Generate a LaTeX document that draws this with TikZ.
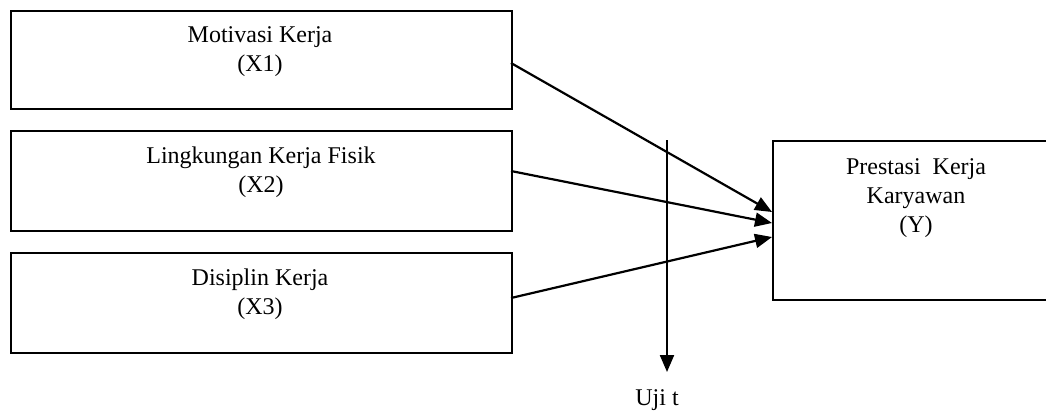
\documentclass[tikz,border=0pt]{standalone}
\usepackage{fontspec}
\setmainfont{Liberation Serif}
\usetikzlibrary{arrows.meta}
\begin{document}
\begin{tikzpicture}[x=1pt,y=-1pt,
  box/.style={draw,line width=2pt,anchor=north west,inner sep=0pt},
  txt/.style={align=center,anchor=north,inner sep=0pt,font=\fontsize{24}{29}\selectfont},
  con/.style={line width=2.2pt,-{Triangle[length=17pt,width=14pt]}}]
\useasboundingbox (0,0) rectangle (1046,410);
\node[box,minimum width=501pt,minimum height=98pt] (b1) at (10,10) {};
\node[box,minimum width=501pt,minimum height=100pt] (b2) at (10,130) {};
\node[box,minimum width=501pt,minimum height=100pt] (b3) at (10,252) {};
\node[box,minimum width=290pt,minimum height=159pt] (y) at (772,140) {};
\node[txt] (t1) at (260,26.6) {Motivasi Kerja\\(X1)};
\node[txt] (t2) at (261,146.6) {Lingkungan Kerja Fisik\\(X2)};
\node[txt] (t3) at (260,268.6) {Disiplin Kerja\\(X3)};
\node[txt] (ty) at (916,158.6) {Prestasi\ \ Kerja\\Karyawan\\(Y)};
\coordinate (s1) at (511,63);
\coordinate (s2) at (511,171);
\coordinate (s3) at (511,298);
\coordinate (e1) at (772,212);
\coordinate (e2) at (772,223);
\coordinate (e3) at (772,237);
\draw[con] (s1) -- (e1);
\draw[con] (s2) -- (e2);
\draw[con] (s3) -- (e3);
\coordinate (vt) at (667,140);
\coordinate (vb) at (667,372);
\draw[con] (vt) -- (vb);
\node[txt] (uji) at (657,389) {Uji t};
\end{tikzpicture}
\end{document}
